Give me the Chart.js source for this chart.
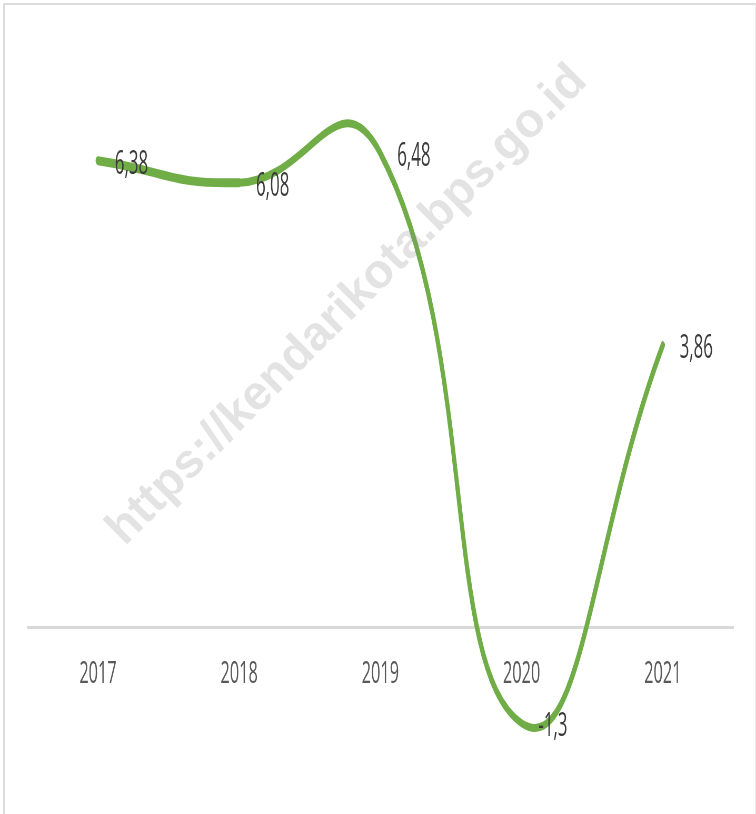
<!DOCTYPE html>
<html>
<head>
<meta charset="utf-8">
<script src="https://cdn.jsdelivr.net/npm/chart.js@4"></script>
<style>
  html, body { margin: 0; padding: 0; background: #fff; overflow: hidden; }
  #wrap { position: relative; width: 756px; height: 814px; }
  #chart { position: absolute; left: 0; top: 0; }
  #frame {
    position: absolute; left: 3px; top: 3px; width: 753px; height: 830px;
    border-top: 2px solid #dcdcdc; border-left: 2px solid #dcdcdc; border-right: 1px solid #ececec;
    box-sizing: border-box; pointer-events: none;
  }
  #mark {
    position: absolute; left: 345px; top: 303px;
    transform: translate(-50%, -50%) rotate(-45deg);
    font: bold 48px 'Liberation Sans', Arial, sans-serif;
    color: rgba(140, 140, 140, 0.24); white-space: nowrap; pointer-events: none;
  }
</style>
</head>
<body>
<div id="wrap">
  <!-- canvas is drawn wider and squeezed by css, like the narrow look of the original -->
  <canvas id="chart" width="1436" height="814" style="width:756px;height:814px"></canvas>
  <div id="frame"></div>
  <div id="mark">https://kendarikota.bps.go.id</div>
</div>
<script>
const years = ["2017", "2018", "2019", "2020", "2021"];
const growth = [6.38, 6.08, 6.48, -1.3, 3.86];

Chart.defaults.font.family = "'Open Sans', sans-serif";

// labels "6,38" etc. next to each point
const valueLabels = {
  id: "valueLabels",
  afterDatasetsDraw(chart) {
    const ctx = chart.ctx;
    const meta = chart.getDatasetMeta(0);
    ctx.save();
    ctx.font = "32px 'Open Sans', sans-serif";
    ctx.fillStyle = "#3a3a3a";
    ctx.textAlign = "left";
    ctx.textBaseline = "middle";
    meta.data.forEach(function(pt, i) {
      const txt = String(growth[i]).replace(".", ",");
      ctx.fillText(txt, pt.x + 32, pt.y + 4);
    });
    ctx.restore();
  }
};

const ctx = document.getElementById("chart").getContext("2d");
const chart = new Chart(ctx, {
  type: "line",
  data: {
    labels: years,
    datasets: [{
      data: growth,
      borderColor: "#70ad47",
      borderWidth: 8,
      borderCapStyle: "round",
      borderJoinStyle: "round",
      tension: 0.5,
      pointRadius: 0,
      fill: false,
      clip: false,
      segment: {
        borderWidth: c => (c.p0DataIndex === 0 ? 9 : 8)
      }
    }]
  },
  options: {
    responsive: false,
    devicePixelRatio: 1,
    animation: false,
    layout: {
      padding: { top: 42, left: 52, right: 43, bottom: 0 }
    },
    plugins: {
      legend: { display: false },
      tooltip: { enabled: false },
      title: { display: false }
    },
    scales: {
      x: {
        offset: true,
        position: { y: 0 },
        grid: { display: false, drawTicks: false },
        border: { display: true, color: "#d9d9d9", width: 3 },
        ticks: {
          color: "#595959",
          padding: 28,
          font: { size: 31 }
        }
      },
      y: {
        display: false,
        min: -2.54,
        max: 8
      }
    }
  },
  plugins: [valueLabels]
});
</script>
</body>
</html>
